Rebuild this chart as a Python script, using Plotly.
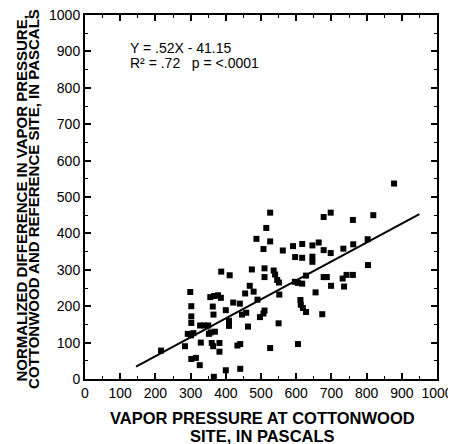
import plotly.graph_objects as go

x_vals = [216, 284, 299, 302, 302, 302, 292, 301, 308, 302, 315, 326, 329, 327, 339, 350, 352,
          356, 367, 378, 386, 363, 365, 357, 369, 360, 364, 366, 382, 382, 387, 400, 409, 409,
          411, 400, 421, 433, 441, 441, 440, 446, 458, 455, 463, 468, 474, 479, 490, 487, 497,
          507, 510, 507, 510, 510, 515, 526, 526, 526, 536, 540, 546, 551, 550, 552, 562, 591,
          597, 596, 605, 605, 617, 617, 617, 612, 613, 619, 628, 628, 646, 646, 646, 655, 664,
          674, 678, 678, 678, 687, 698, 699, 698, 734, 732, 736, 743, 761, 761, 762, 803, 804,
          819, 878]
y_vals = [78, 90, 239, 200, 172, 154, 124, 120, 126, 55, 58, 38, 100, 147, 147, 147, 124,
          225, 228, 230, 223, 199, 177, 128, 130, 99, 90, 6, 99, 75, 295, 189, 160, 146,
          285, 24, 210, 92, 96, 28, 207, 177, 182, 235, 144, 256, 301, 240, 218, 385, 170,
          180, 188, 357, 304, 280, 415, 457, 378, 85, 298, 287, 272, 265, 153, 232, 353, 365,
          335, 267, 264, 96, 371, 333, 262, 217, 204, 195, 184, 284, 367, 336, 322, 238, 375,
          178, 445, 354, 280, 280, 457, 256, 346, 358, 276, 254, 286, 437, 286, 370, 384, 313,
          450, 537]

slope = 0.52
intercept = -41.15
line_x = [145, 950]
line_y = [slope * v + intercept for v in line_x]

x_ticks = [0, 100, 200, 300, 400, 500, 600, 700, 800, 900, 1000]
y_ticks = [0, 100, 200, 300, 400, 500, 600, 700, 800, 900, 1000]

eq_line1 = "Y = .52X - 41.15"
eq_line2 = "R\u00b2 = .72\u00a0\u00a0\u00a0p = <.0001"
x_title = ["VAPOR PRESSURE AT COTTONWOOD", "SITE, IN PASCALS"]
y_title = ["NORMALIZED DIFFERENCE IN VAPOR PRESSURE,", "COTTONWOOD AND REFERENCE SITE, IN PASCALS"]

FONT = "Liberation Sans, Arial, sans-serif"

fig = go.Figure()
fig.add_trace(go.Scatter(x=x_vals, y=y_vals, mode="markers",
                         marker=dict(symbol="square", size=6, color="black", line=dict(width=0)),
                         showlegend=False, cliponaxis=False))
fig.add_trace(go.Scatter(x=line_x, y=line_y, mode="lines",
                         line=dict(color="black", width=2), showlegend=False))

axis_common = dict(showgrid=False, zeroline=False, showline=True, linecolor="black", linewidth=2,
                   mirror="allticks", ticks="inside", ticklen=6, tickwidth=1.5, tickcolor="black",
                   ticklabeloverflow="allow",
                   tickfont=dict(family=FONT, size=14, color="black"),
                   minor=dict(ticks="inside", ticklen=3, tickwidth=1, tickcolor="black", dtick=50))

fig.update_xaxes(range=[0, 1000], tickvals=x_ticks, ticktext=[str(v) for v in x_ticks], **axis_common)
fig.update_yaxes(range=[0, 1000], tickvals=y_ticks, ticktext=[str(v) for v in y_ticks], **axis_common)

for txt, yy in zip([eq_line1, eq_line2], [0.909, 0.868]):
    fig.add_annotation(text=txt, x=0.122, y=yy, xref="paper", yref="paper",
                       xanchor="left", yanchor="middle", showarrow=False,
                       font=dict(family=FONT, size=14, color="black"))

# axis titles
for txt, yy in zip(x_title, [-0.107, -0.156]):
    fig.add_annotation(text="<b>" + txt + "</b>", x=0.503, y=yy, xref="paper", yref="paper",
                       xanchor="center", yanchor="middle", showarrow=False,
                       font=dict(family=FONT, size=16.5, color="black"))
for txt, xx in zip(y_title, [-0.183, -0.148]):
    fig.add_annotation(text="<b>" + txt + "</b>", x=xx, y=0.4945, xref="paper", yref="paper",
                       xanchor="center", yanchor="middle", showarrow=False, textangle=-90,
                       font=dict(family=FONT, size=15, color="black"))

# page body has an 8px default margin, so the figure is 8px smaller and shifted
fig.update_layout(width=448, height=436,
                  margin=dict(l=77, r=19, t=7, b=65, autoexpand=False),
                  paper_bgcolor="white", plot_bgcolor="white")

fig.write_html("out.html")
